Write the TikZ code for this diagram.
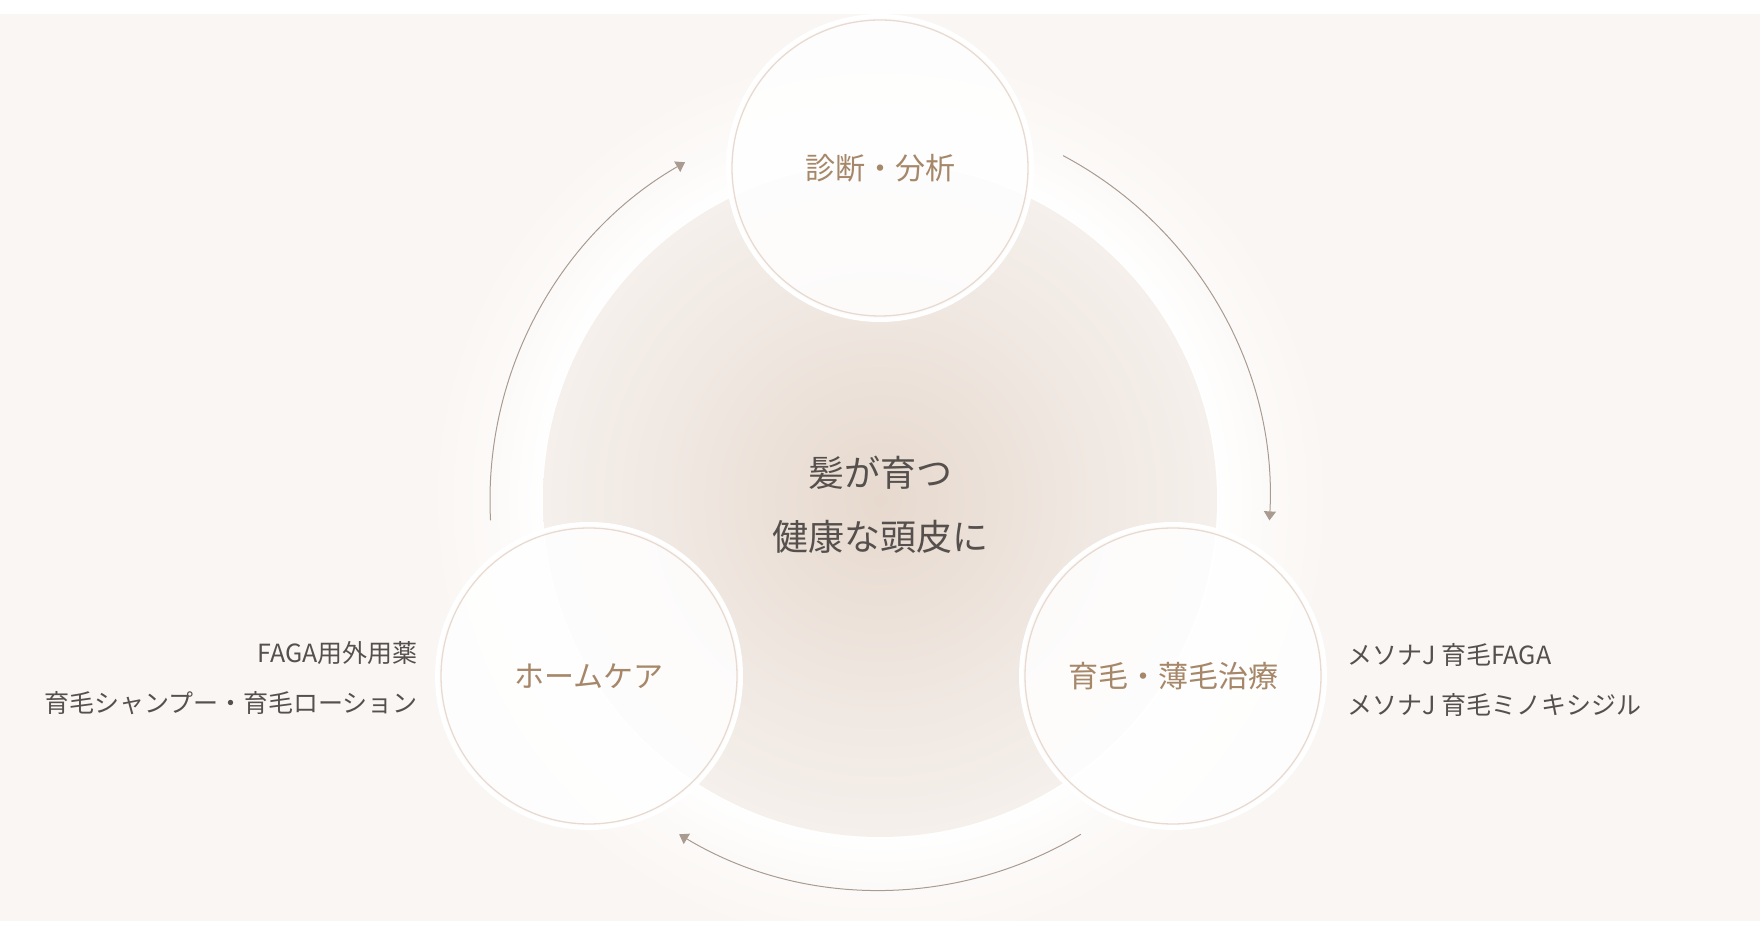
\documentclass[tikz,border=0pt]{standalone}
\usepackage{fontspec}
\usetikzlibrary{arrows.meta,calc}
\newfontfamily\cjk{Noto Sans CJK JP}

\definecolor{bgc}{RGB}{250,246,243}
\definecolor{scalpmid}{RGB}{231,217,206}
\definecolor{scalpring}{RGB}{238,229,222}
\definecolor{scalpedge}{RGB}{245,240,236}
\definecolor{ringc}{RGB}{232,218,208}
\definecolor{labelc}{RGB}{166,135,105}
\definecolor{textc}{RGB}{85,80,77}
\definecolor{flowc}{RGB}{170,155,145}

\pgfdeclareradialshading{glow}{\pgfpoint{0bp}{0bp}}{color(0bp)=(white); color(18.5bp)=(white); color(21.5bp)=(white!45!bgc); color(25bp)=(bgc); color(50bp)=(bgc)}
\pgfdeclareradialshading{scalp}{\pgfpoint{0bp}{0bp}}{color(0bp)=(scalpmid); color(12.5bp)=(scalpring); color(25bp)=(scalpedge); color(50bp)=(scalpedge)}

\tikzset{
  stage/.style={circle,minimum size=304pt,inner sep=0pt,fill=white,fill opacity=0.86,
    text opacity=1,draw=white,line width=4pt,text=labelc,font=\cjk\fontsize{30}{36}\selectfont},
  sidetext/.style={text=textc,font=\cjk\fontsize{25}{50}\selectfont,inner sep=0pt},
  flow/.style={draw=flowc,line width=1pt,-{Triangle[width=12pt,length=9pt]}}
}

\begin{document}
\begin{tikzpicture}[x=1pt,y=1pt]
   \useasboundingbox (0,0) rectangle (1760,941);
   \fill[white] (0,0) rectangle (1760,941);
   \coordinate (mid) at (880,441);
   \begin{scope}
    \clip (0,20) rectangle (1760,927);
    \fill[bgc] (0,20) rectangle (1760,927);
    \shade[shading=glow] (mid) circle[radius=450pt];
    \shade[shading=scalp] (mid) circle[radius=337pt];
   \end{scope}
   \node[text=textc,font=\cjk\fontsize{36}{64}\selectfont,align=center] (core) at (880,436) {髪が育つ\\健康な頭皮に};
   \coordinate (f1) at ($(mid)+(183:390pt)$);
   \coordinate (f2) at ($(mid)+(62:390pt)$);
   \coordinate (f3) at ($(mid)+(-59:390pt)$);
   \draw[flow] (f1) arc[start angle=183,end angle=120,radius=390pt];
   \draw[flow] (f2) arc[start angle=62,end angle=-3,radius=390pt];
   \draw[flow] (f3) arc[start angle=-59,end angle=-121,radius=390pt];
   \begin{scope}[every node/.style={stage}]
    \node (diag) at (880,773) {診断・分析};
    \node (care) at (589,265) {ホームケア};
    \node (treat) at (1173,265) {育毛・薄毛治療};
   \end{scope}
   \foreach \n in {diag,care,treat}
    \draw[ringc,line width=1.3pt] (\n.center) circle[radius=148pt];
   \node[sidetext,anchor=east,align=right] (carelist) at (418,263) {FAGA用外用薬\\育毛シャンプー・育毛ローション};
   \node[sidetext,anchor=west,align=left] (treatlist) at (1347,261) {メソナJ 育毛FAGA\\メソナJ 育毛ミノキシジル};
\end{tikzpicture}
\end{document}
